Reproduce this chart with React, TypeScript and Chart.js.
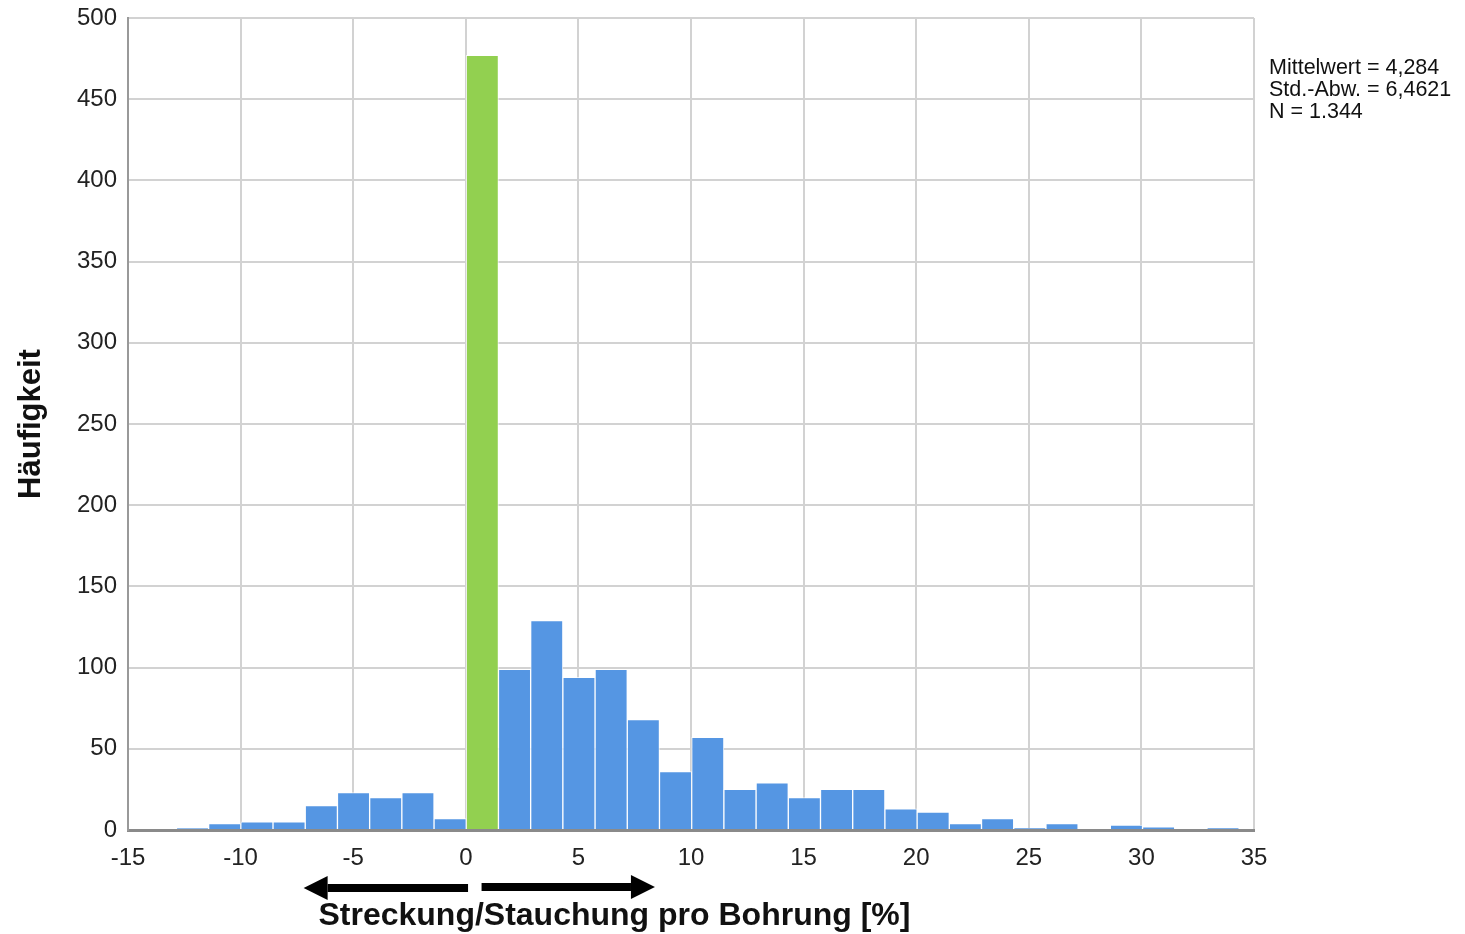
import React, { useEffect, useRef } from "react";
import { Chart, registerables } from "chart.js";

Chart.register(...registerables);

// Histogram bins (lower edge of first bin and bin width, in %)
const binStart = -12.85;
const binWidth = 1.43;
const counts = [
  1, 4, 5, 5, 15, 23, 20, 23, 7,
  477, 99, 129, 94, 99, 68, 36, 57, 25, 29, 20, 25, 25, 13, 11, 4, 7, 1, 4, 0, 3, 2, 0, 1,
];
const highlightBin = 9;
const xTicks = [-15, -10, -5, 0, 5, 10, 15, 20, 25, 30, 35];
const yTicks = [0, 50, 100, 150, 200, 250, 300, 350, 400, 450, 500];
const statsLines = ["Mittelwert = 4,284", "Std.-Abw. = 6,4621", "N = 1.344"];
const xTitle = "Streckung/Stauchung pro Bohrung [%]";
const yTitle = "Häufigkeit";
// arrows under the axis, in data units of x
const leftArrow = [0.1, -7.2];
const rightArrow = [0.7, 8.4];

const BLUE = "#5596e3";
const GREEN = "#92d050";
const FONT = "'Liberation Sans', Arial, sans-serif";

export default function App() {
  const ref = useRef<HTMLCanvasElement | null>(null);

  useEffect(() => {
    if (!ref.current) return;
    const data = counts.map((c, i) => ({ x: binStart + (i + 0.5) * binWidth, y: c }));
    const colors = counts.map((_, i) => (i === highlightBin ? GREEN : BLUE));

    const annot = {
      id: "annot",
      afterDraw(chart: any) {
        const ctx = chart.ctx;
        const xs = chart.scales.x;
        const area = chart.chartArea;
        ctx.save();
        // stats text
        ctx.fillStyle = "#111";
        ctx.font = `21.5px ${FONT}`;
        ctx.textAlign = "left";
        ctx.textBaseline = "middle";
        statsLines.forEach((t, i) => ctx.fillText(t, area.right + 15, 68 + i * 22));
        // arrows
        const drawArrow = (from: number, to: number, y: number) => {
          const x0 = xs.getPixelForValue(from);
          const x1 = xs.getPixelForValue(to);
          const dir = Math.sign(x1 - x0);
          const head = 24;
          ctx.fillStyle = "#000";
          ctx.fillRect(Math.min(x0, x1 - dir * head), y - 4, Math.abs(x1 - dir * head - x0), 8);
          ctx.beginPath();
          ctx.moveTo(x1, y);
          ctx.lineTo(x1 - dir * head, y - 12);
          ctx.lineTo(x1 - dir * head, y + 12);
          ctx.closePath();
          ctx.fill();
        };
        drawArrow(leftArrow[0], leftArrow[1], 888);
        drawArrow(rightArrow[0], rightArrow[1], 887);
        // x title
        ctx.fillStyle = "#111";
        ctx.font = `bold 32px ${FONT}`;
        ctx.textAlign = "center";
        ctx.fillText(xTitle, xs.getPixelForValue(6.6), 916);
        // y title
        ctx.translate(31, (area.top + area.bottom) / 2);
        ctx.rotate(-Math.PI / 2);
        ctx.font = `bold 31px ${FONT}`;
        ctx.fillText(yTitle, 0, 0);
        ctx.restore();
      },
    };

    const chart = new Chart(ref.current, {
      type: "bar",
      data: {
        datasets: [
          {
            data,
            backgroundColor: colors,
            borderColor: "rgba(255,255,255,0.75)",
            borderWidth: 1,
            borderSkipped: "bottom",
            barPercentage: 1,
            categoryPercentage: 1,
          },
        ],
      },
      options: {
        animation: false,
        responsive: false,
        layout: { padding: { left: 0, right: 211, top: 18, bottom: 0 } },
        plugins: { legend: { display: false }, tooltip: { enabled: false } },
        scales: {
          x: {
            type: "linear",
            min: xTicks[0],
            max: xTicks[xTicks.length - 1],
            offset: false,
            afterBuildTicks: (s: any) => {
              s.ticks = xTicks.map((v) => ({ value: v }));
            },
            afterFit: (s: any) => {
              s.height = 104;
              s.paddingLeft = 0;
              s.paddingRight = 0;
            },
            ticks: {
              padding: 14,
              color: "#222",
              font: { family: FONT, size: 24 },
              maxRotation: 0,
            },
            grid: { color: "#d2d2d2", lineWidth: 2, drawTicks: false, offset: false },
            border: { color: "#8a8a8a", width: 3 },
          },
          y: {
            min: 0,
            max: 500,
            afterBuildTicks: (s: any) => {
              s.ticks = yTicks.map((v) => ({ value: v }));
            },
            afterFit: (s: any) => {
              s.width = 128;
              s.paddingTop = 0;
              s.paddingBottom = 0;
            },
            ticks: {
              padding: 11,
              color: "#222",
              font: { family: FONT, size: 24 },
            },
            grid: { color: "#d2d2d2", lineWidth: 2, drawTicks: false },
            border: { color: "#999", width: 2 },
          },
        },
      },
      plugins: [annot],
    });
    return () => chart.destroy();
  }, []);

  return (
    <div style={{ position: "absolute", left: 0, top: 0, width: 1465, height: 934, background: "#fff" }}>
      <canvas ref={ref} width={1465} height={934} style={{ display: "block" }} />
    </div>
  );
}
